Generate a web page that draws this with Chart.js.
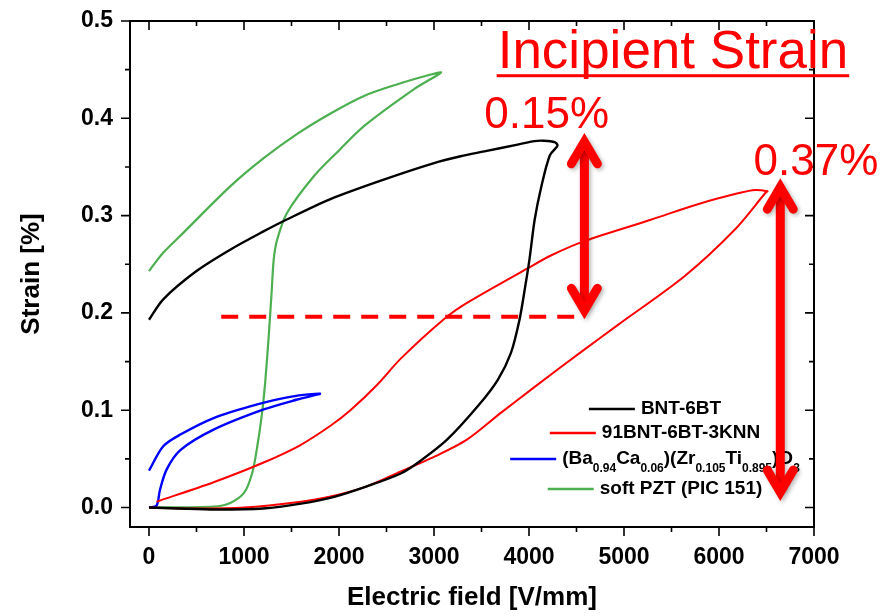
<!DOCTYPE html>
<html>
<head>
<meta charset="utf-8">
<script src="https://cdn.jsdelivr.net/npm/chart.js@4.4.1/dist/chart.umd.min.js"></script>
<style>
  html, body { margin: 0; padding: 0; background: #fff; }
  #wrap { width: 881px; height: 616px; }
</style>
</head>
<body>
<div id="wrap"><canvas id="c" width="881" height="616"></canvas></div>
<script>
const FONT = '"Liberation Sans", Arial, Helvetica, sans-serif';

// Unipolar strain loops: rising-field branch, then falling-field branch
const bntField  = [0, 300, 700, 1200, 1600, 1950, 2300, 2650, 2830, 3140, 3460, 3670, 3810, 3900, 3960, 4005, 4060, 4130, 4220, 4300,
                   4270, 4150, 4060, 3880, 3530, 3280, 3000, 2440, 1910, 1450, 1200, 855, 500, 150, 0];
const bntStrain = [0, -0.001, -0.002, -0.001, 0.004, 0.011, 0.022, 0.035, 0.046, 0.070, 0.104, 0.131, 0.159, 0.193, 0.227, 0.255, 0.296, 0.330, 0.362, 0.372,
                   0.3755, 0.377, 0.3766, 0.373, 0.366, 0.361, 0.354, 0.336, 0.317, 0.296, 0.2835, 0.265, 0.243, 0.214, 0.193];

const knnField  = [0, 500, 1000, 1600, 1900, 2300, 2650, 3000, 3350, 3700, 4060, 4550, 4940, 5640, 6170, 6490, 6510,
                   6350, 5820, 5290, 4590, 4230, 3990, 3360, 3110, 2650, 2400, 2120, 1910, 1590, 1200, 680, 80];
const knnStrain = [0, -0.001, 0.000, 0.006, 0.011, 0.022, 0.037, 0.052, 0.070, 0.097, 0.124, 0.160, 0.188, 0.238, 0.286, 0.3235, 0.325,
                   0.326, 0.313, 0.296, 0.274, 0.259, 0.246, 0.211, 0.194, 0.153, 0.126, 0.100, 0.084, 0.064, 0.046, 0.026, 0.006];

const bczField  = [0, 80, 115, 185, 330, 680, 1200, 1560, 1800, 1500, 1140, 680, 330, 150, 0];
const bczStrain = [0, 0.002, 0.018, 0.039, 0.059, 0.080, 0.1005, 0.111, 0.117, 0.114, 0.106, 0.092, 0.075, 0.063, 0.038];

const pztField  = [0, 680, 850, 1000, 1085, 1140, 1190, 1225, 1260, 1290, 1313, 1348, 1454, 1735, 2000, 2263, 2791, 3073,
                   2967, 2615, 2263, 1911, 1560, 1207, 855, 327, 151, 0];
const pztStrain = [0, 0.001, 0.0045, 0.015, 0.035, 0.063, 0.097, 0.131, 0.176, 0.22, 0.255, 0.275, 0.303, 0.3405, 0.367, 0.392, 0.43, 0.447,
                   0.445, 0.435, 0.423, 0.405, 0.384, 0.359, 0.330, 0.279, 0.262, 0.243];

const seriesNames = ['BNT-6BT', '91BNT-6BT-3KNN', '(Ba0.94Ca0.06)(Zr0.105Ti0.895)O3', 'soft PZT (PIC 151)'];
// rich-text pieces for the legend: [text, isSubscript]
const bczLegendParts = [['(Ba', 0], ['0.94', 1], ['Ca', 0], ['0.06', 1], [')(Zr', 0], ['0.105', 1], ['Ti', 0], ['0.895', 1], [')O', 0], ['3', 1]];

// Axis ticks
const xMajorTicks = [0, 1000, 2000, 3000, 4000, 5000, 6000, 7000];
const xMinorTicks = [500, 1500, 2500, 3500, 4500, 5500, 6500];
const yMajorTicks = [0, 0.1, 0.2, 0.3, 0.4, 0.5];
const yMinorTicks = [0.05, 0.15, 0.25, 0.35, 0.45];

// Incipient-strain annotation (data units)
const titleNote = 'Incipient Strain';
const titleNoteAt = [3670, 0.452];
const guideField = [760, 4480];
const guideStrain = 0.196;
const arrowField = [4583, 6645];
const arrowTop = [0.382, 0.3354];
const arrowBottom = [0.1965, 0.0097];
const arrowLabels = ['0.15%', '0.37%'];
const arrowLabelField = [3530, 6364];
const arrowLabelStrain = [0.3903, 0.3413];

const pts = (xs, ys) => xs.map((x, i) => ({ x, y: ys[i] }));
const colors = ['#000000', '#ff0000', '#0000ff', '#4caf50'];
const widths = [2.4, 2, 2.4, 2.2];

const datasets = [
  pts(bntField, bntStrain), pts(knnField, knnStrain), pts(bczField, bczStrain), pts(pztField, pztStrain)
].map((data, i) => ({
  label: seriesNames[i], data, showLine: true, borderColor: colors[i], backgroundColor: colors[i],
  borderWidth: widths[i], pointRadius: 0, tension: 0.3, fill: false
}));

const overlay = {
  id: 'overlay',
  afterDatasetsDraw(chart) {
    const ctx = chart.ctx;
    const xs = chart.scales.x, ys = chart.scales.y;
    const a = chart.chartArea;
    ctx.save();
    // frame
    ctx.strokeStyle = '#000';
    ctx.lineWidth = 2;
    ctx.strokeRect(a.left, a.top, a.right - a.left, a.bottom - a.top);
    // ticks: outward on bottom/left, inward on top/right
    ctx.lineWidth = 1.6;
    ctx.beginPath();
    const xt = (v, len) => {
      const p = xs.getPixelForValue(v);
      ctx.moveTo(p, a.bottom); ctx.lineTo(p, a.bottom + len);
      ctx.moveTo(p, a.top); ctx.lineTo(p, a.top + len);
    };
    const yt = (v, len) => {
      const p = ys.getPixelForValue(v);
      ctx.moveTo(a.left, p); ctx.lineTo(a.left - len, p);
      ctx.moveTo(a.right, p); ctx.lineTo(a.right - len, p);
    };
    xMajorTicks.forEach(v => xt(v, 9));
    xMinorTicks.forEach(v => xt(v, 5));
    yMajorTicks.forEach(v => yt(v, 9));
    yMinorTicks.forEach(v => yt(v, 5));
    ctx.stroke();

    // legend
    const legendCx = 655;
    const rowsY = [409, 433, 459, 489];
    const lineLen = 46, gap = 6;
    ctx.textBaseline = 'middle';
    ctx.textAlign = 'left';
    chart.data.datasets.forEach((ds, i) => {
      const y = rowsY[i];
      let parts = i === 2 ? bczLegendParts : [[ds.label, 0]];
      let w = 0;
      parts.forEach(([t, sub]) => {
        ctx.font = sub ? `bold 12px ${FONT}` : `bold 19px ${FONT}`;
        w += ctx.measureText(t).width;
      });
      const total = lineLen + gap + w;
      let x = legendCx - total / 2;
      ctx.strokeStyle = ds.borderColor;
      ctx.lineWidth = 2.6;
      ctx.beginPath(); ctx.moveTo(x, y); ctx.lineTo(x + lineLen, y); ctx.stroke();
      x += lineLen + gap;
      ctx.fillStyle = '#000';
      parts.forEach(([t, sub]) => {
        ctx.font = sub ? `bold 12px ${FONT}` : `bold 19px ${FONT}`;
        ctx.fillText(t, x, sub ? y + 10 : y);
        x += ctx.measureText(t).width;
      });
    });

    // dashed guide line
    ctx.strokeStyle = '#ff0000';
    ctx.lineWidth = 4;
    ctx.setLineDash([17, 11]);
    ctx.beginPath();
    ctx.moveTo(xs.getPixelForValue(guideField[0]), ys.getPixelForValue(guideStrain));
    ctx.lineTo(xs.getPixelForValue(guideField[1]), ys.getPixelForValue(guideStrain));
    ctx.stroke();
    ctx.setLineDash([]);

    // double-headed arrows
    ctx.shadowColor = 'rgba(0,0,0,0.28)';
    ctx.shadowBlur = 4;
    ctx.shadowOffsetX = 2;
    ctx.shadowOffsetY = 2;
    ctx.strokeStyle = '#ff0000';
    ctx.fillStyle = '#ff0000';
    arrowField.forEach((f, i) => {
      const x = xs.getPixelForValue(f);
      const yT = ys.getPixelForValue(arrowTop[i]);
      const yB = ys.getPixelForValue(arrowBottom[i]);
      ctx.lineCap = 'butt';
      ctx.lineWidth = 9;
      ctx.beginPath(); ctx.moveTo(x, yT + 8); ctx.lineTo(x, yB - 8); ctx.stroke();
      ctx.lineCap = 'round';
      ctx.lineJoin = 'miter';
      ctx.lineWidth = 9;
      ctx.beginPath();
      ctx.moveTo(x - 13, yT + 28); ctx.lineTo(x, yT + 6); ctx.lineTo(x + 13, yT + 28);
      ctx.moveTo(x - 13, yB - 28); ctx.lineTo(x, yB - 6); ctx.lineTo(x + 13, yB - 28);
      ctx.stroke();
    });
    ctx.shadowColor = 'transparent';
    ctx.shadowBlur = 0; ctx.shadowOffsetX = 0; ctx.shadowOffsetY = 0;

    // labels
    ctx.fillStyle = '#ff0000';
    ctx.textBaseline = 'alphabetic';
    ctx.textAlign = 'left';
    ctx.font = `44px ${FONT}`;
    arrowLabels.forEach((t, i) => {
      ctx.fillText(t, xs.getPixelForValue(arrowLabelField[i]), ys.getPixelForValue(arrowLabelStrain[i]));
    });
    ctx.font = `53px ${FONT}`;
    const tx = xs.getPixelForValue(titleNoteAt[0]);
    const ty = ys.getPixelForValue(titleNoteAt[1]);
    ctx.fillText(titleNote, tx, ty);
    const tw = ctx.measureText(titleNote).width;
    ctx.fillRect(tx - 1, ty + 6.5, tw + 2, 3);
    ctx.restore();
  }
};

new Chart(document.getElementById('c'), {
  type: 'scatter',
  data: { datasets },
  options: {
    responsive: false,
    devicePixelRatio: 1,
    animation: false,
    layout: { padding: { top: 21, right: 67, left: 0, bottom: 0 } },
    plugins: { legend: { display: false }, tooltip: { enabled: false } },
    scales: {
      x: {
        type: 'linear', min: -200, max: 7000,
        afterBuildTicks: s => { s.ticks = xMajorTicks.map(v => ({ value: v })); },
        afterFit: s => { s.height = 89; s.paddingLeft = 0; s.paddingRight = 0; },
        grid: { display: false, drawTicks: false },
        border: { display: false },
        ticks: { color: '#000', padding: 17, maxRotation: 0, autoSkip: false,
                 font: { family: FONT, size: 23, weight: 'bold' }, callback: v => String(v) },
        title: { display: true, text: 'Electric field [V/mm]', color: '#000',
                 font: { family: FONT, size: 26, weight: 'bold' }, padding: { top: 0, bottom: 3 } }
      },
      y: {
        type: 'linear', min: -0.02, max: 0.5,
        afterBuildTicks: s => { s.ticks = yMajorTicks.map(v => ({ value: v })); },
        afterFit: s => { s.width = 130; s.paddingTop = 0; s.paddingBottom = 0; },
        grid: { display: false, drawTicks: false },
        border: { display: false },
        ticks: { color: '#000', padding: 17, autoSkip: false,
                 font: { family: FONT, size: 23, weight: 'bold' }, callback: v => v.toFixed(1) },
        title: { display: true, text: 'Strain [%]', color: '#000',
                 font: { family: FONT, size: 26, weight: 'bold' }, padding: { top: 16, bottom: 0 } }
      }
    }
  },
  plugins: [overlay]
});
</script>
</body>
</html>
